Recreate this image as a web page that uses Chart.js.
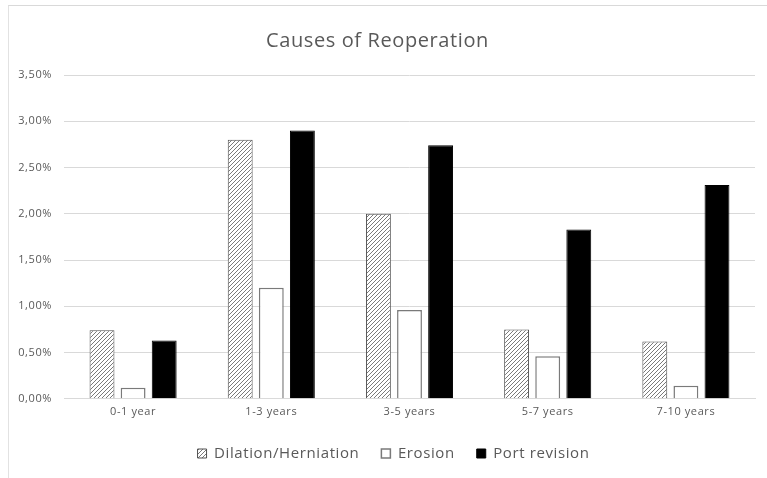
<!DOCTYPE html>
<html>
<head>
<meta charset="utf-8">
<script src="https://cdn.jsdelivr.net/npm/chart.js@4/dist/chart.umd.min.js"></script>
<style>
  html, body { margin:0; padding:0; background:#fff; }
  #wrap { position:relative; width:767px; height:478px; overflow:hidden; }
  #frame { position:absolute; left:8px; top:5px; width:900px; height:600px;
           border-top:1px solid #d9d9d9; border-left:1px solid #e2e2e2; }
  canvas { position:absolute; left:0; top:0; }
</style>
</head>
<body>
<div id="wrap">
  <div id="frame"></div>
  <canvas id="chart" width="767" height="478"></canvas>
</div>
<script>
/* données (en %) */
const categories = ['0-1 year', '1-3 years', '3-5 years', '5-7 years', '7-10 years'];
const dilation   = [0.74, 2.80, 2.00, 0.75, 0.62];
const erosion    = [0.12, 1.20, 0.96, 0.46, 0.14];
const portRev    = [0.63, 2.90, 2.74, 1.83, 2.31];
const yTicks     = [0, 0.5, 1, 1.5, 2, 2.5, 3, 3.5];

const txt = '#595959', grid = '#d9d9d9';
const FONT = '"Open Sans", "Noto Sans", sans-serif';

/* motif hachuré pour Dilation/Herniation */
const hatch = (() => {
  const c = document.createElement('canvas');
  c.width = 4; c.height = 4;
  const g = c.getContext('2d');
  g.fillStyle = '#fff'; g.fillRect(0, 0, 4, 4);
  g.strokeStyle = '#7a7a7a'; g.lineWidth = 1;
  g.beginPath();
  g.moveTo(0, 4); g.lineTo(4, 0);
  g.moveTo(-1, 1); g.lineTo(1, -1);
  g.moveTo(3, 5); g.lineTo(5, 3);
  g.stroke();
  return g.createPattern(c, 'repeat');
})();

const pct = v => v.toFixed(2).replace('.', ',') + '%';

/* texte un peu plus espacé, comme l'original ; légende décalée à droite */
const tweaks = {
  id: 'tweaks',
  beforeUpdate: ch => { ch.ctx.letterSpacing = '0.6px'; },
  beforeDraw: ch => {
    ch.ctx.letterSpacing = '0.6px';
    const lg = ch.legend;
    if (lg) { lg.left = 16; lg.right = 16 + 755; }
  }
};

new Chart(document.getElementById('chart'), {
  type: 'bar',
  data: {
    labels: categories,
    datasets: [
      { label: 'Dilation/Herniation', data: dilation, backgroundColor: hatch,
        borderColor: '#505050', borderWidth: 1 },
      { label: 'Erosion', data: erosion, backgroundColor: '#ffffff',
        borderColor: '#7a7a7a', borderWidth: 1.5 },
      { label: 'Port revision', data: portRev, backgroundColor: '#000000',
        borderColor: '#000000', borderWidth: 1 }
    ]
  },
  plugins: [tweaks],
  options: {
    responsive: false,
    animation: false,
    layout: { padding: { left: 0, right: 12, top: 25, bottom: 7 } },
    datasets: { bar: { categoryPercentage: 0.675, barPercentage: 0.8 } },
    plugins: {
      title: { display: true, text: 'Causes of Reoperation', color: txt,
               font: { family: FONT, size: 20, weight: 'normal' },
               padding: { top: 4, bottom: 22 } },
      legend: { position: 'bottom',
                labels: { color: txt, boxWidth: 9, boxHeight: 9, padding: 22,
                          font: { family: FONT, size: 15 } } },
      tooltip: { enabled: false }
    },
    scales: {
      x: {
        grid: { display: false, drawTicks: false },
        border: { display: true, color: grid, width: 1 },
        ticks: { color: txt, font: { family: FONT, size: 11 }, padding: 6 }
      },
      y: {
        min: 0, max: 3.5,
        afterFit: s => { s.width = 64; },
        afterBuildTicks: s => { s.ticks = yTicks.map(v => ({ value: v })); },
        grid: { color: grid, lineWidth: 1, drawTicks: false },
        border: { display: false },
        ticks: { color: txt, font: { family: FONT, size: 11 }, padding: 12,
                 callback: v => pct(v) }
      }
    }
  }
});
</script>
</body>
</html>
